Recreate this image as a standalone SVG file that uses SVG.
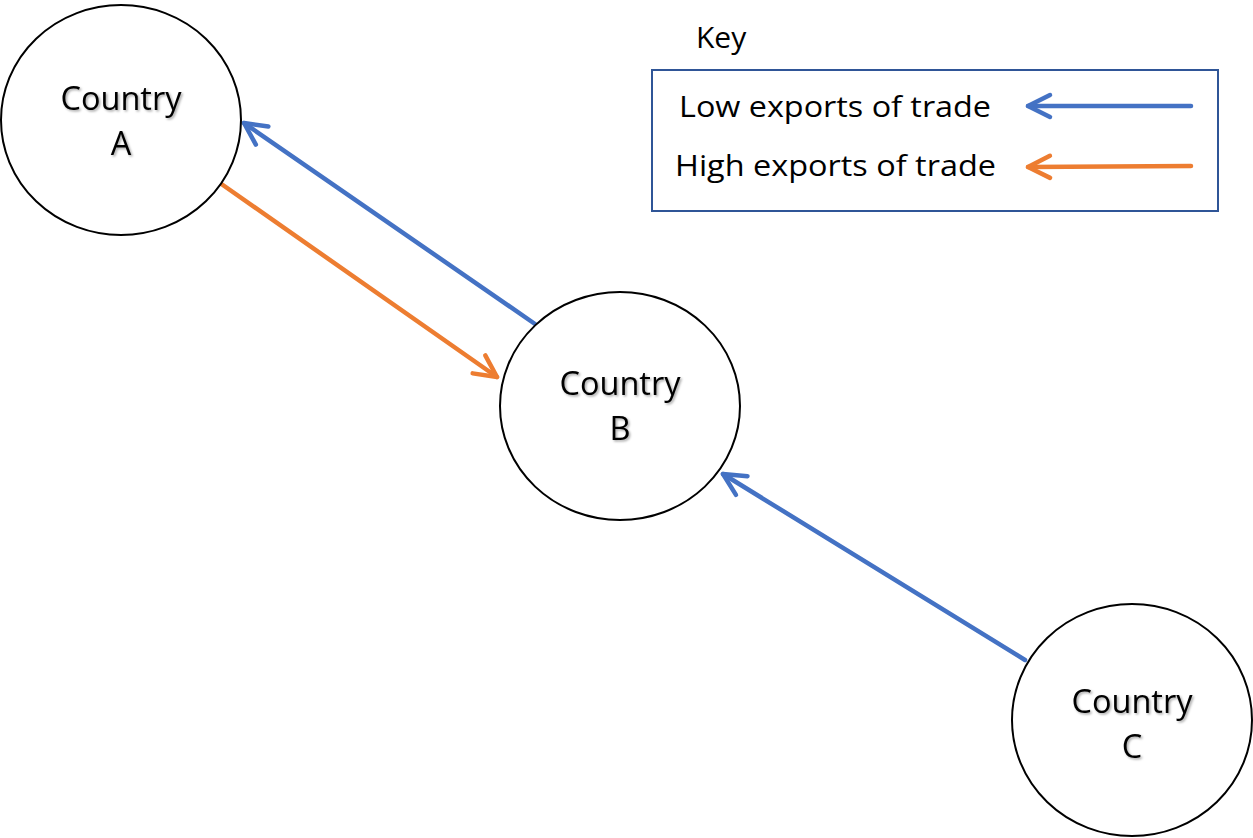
<svg xmlns="http://www.w3.org/2000/svg" width="1253" height="838" viewBox="0 0 1253 838">
<style>
.node{fill:#fff;stroke:#000;stroke-width:2}
.lbl{font-family:"Open Sans","Liberation Sans",sans-serif;font-size:32.5px;fill:#000;text-anchor:middle}
.key{font-family:"Open Sans","Liberation Sans",sans-serif;font-size:30px;fill:#000}
.blue{stroke:#4472C4;stroke-width:4.5;fill:none;stroke-linecap:round}
.orange{stroke:#ED7D31;stroke-width:4.5;fill:none;stroke-linecap:round}
</style>
<defs>
<filter id="sh" x="-10%" y="-10%" width="130%" height="130%">
<feDropShadow dx="1.5" dy="1.5" stdDeviation="1" flood-color="#000" flood-opacity="0.35"/>
</filter>
<marker id="ab" markerUnits="userSpaceOnUse" viewBox="-26 -14 30 28" refX="0" refY="0" markerWidth="30" markerHeight="28" orient="auto" overflow="visible">
<path d="M-22,-11 L0,0 L-22,11" fill="none" stroke="#4472C4" stroke-width="4.5" stroke-linecap="round" stroke-linejoin="round"/>
</marker>
<marker id="ao" markerUnits="userSpaceOnUse" viewBox="-26 -14 30 28" refX="0" refY="0" markerWidth="30" markerHeight="28" orient="auto" overflow="visible">
<path d="M-22,-11 L0,0 L-22,11" fill="none" stroke="#ED7D31" stroke-width="4.5" stroke-linecap="round" stroke-linejoin="round"/>
</marker>
</defs>
<rect width="1253" height="838" fill="#fff"/>
<g id="connectors">
<line class="blue" x1="535" y1="324" x2="244" y2="123" marker-end="url(#ab)"/>
<line class="orange" x1="220" y1="183" x2="497" y2="377" marker-end="url(#ao)"/>
<line class="blue" x1="1025" y1="660" x2="723" y2="474" marker-end="url(#ab)"/>
</g>
<g id="countryA">
<ellipse class="node" cx="121" cy="120" rx="120" ry="115"/>
<text class="lbl" filter="url(#sh)"><tspan x="121" y="110">Country</tspan><tspan x="121" y="155">A</tspan></text>
</g>
<g id="countryB">
<ellipse class="node" cx="620" cy="406" rx="120" ry="114"/>
<text class="lbl" filter="url(#sh)"><tspan x="620" y="395">Country</tspan><tspan x="620" y="440">B</tspan></text>
</g>
<g id="countryC">
<ellipse class="node" cx="1132" cy="720" rx="120" ry="116"/>
<text class="lbl" filter="url(#sh)"><tspan x="1132" y="713">Country</tspan><tspan x="1132" y="758">C</tspan></text>
</g>
<g id="key">
<text class="key" x="696" y="48">Key</text>
<rect x="652" y="70" width="566" height="141" fill="none" stroke="#2F5597" stroke-width="2"/>
<text class="key" x="679" y="117" textLength="312" lengthAdjust="spacingAndGlyphs">Low exports of trade</text>
<text class="key" x="675" y="176" textLength="321" lengthAdjust="spacingAndGlyphs">High exports of trade</text>
<line class="blue" x1="1191" y1="106" x2="1028" y2="106" marker-end="url(#ab)"/>
<line class="orange" x1="1191" y1="166" x2="1028" y2="167" marker-end="url(#ao)"/>
</g>
</svg>
